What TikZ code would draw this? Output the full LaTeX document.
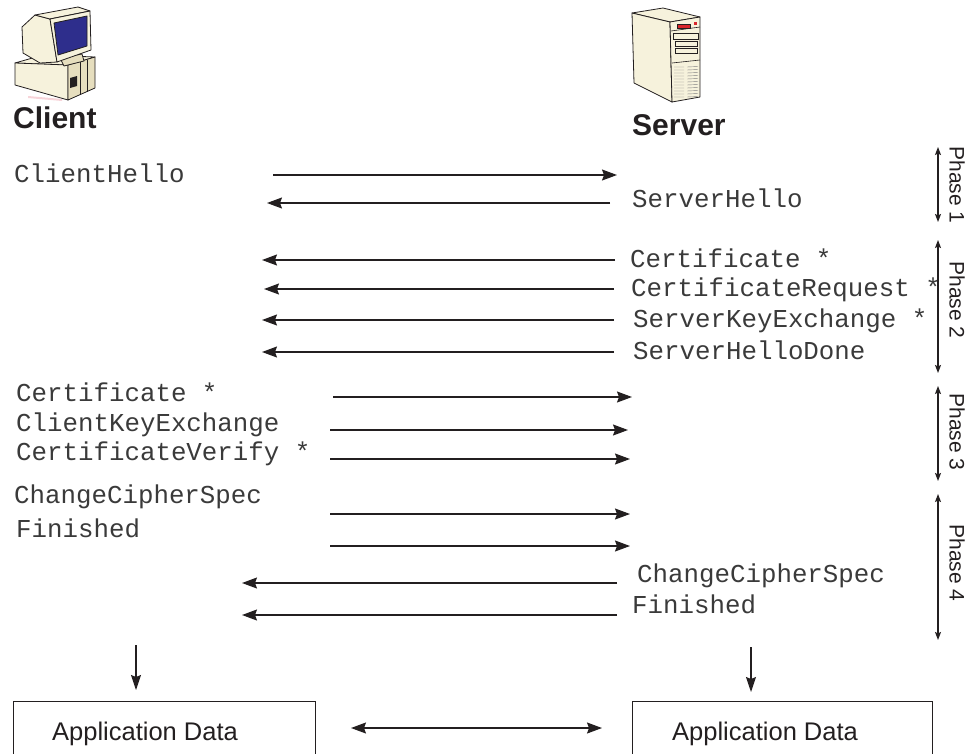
\documentclass[tikz,border=0pt]{standalone}
\usepackage{fontspec}
\setmainfont{Liberation Sans}
\setmonofont{Liberation Mono}
\usetikzlibrary{arrows.meta}
\definecolor{cream}{HTML}{F6F2DC}
\definecolor{creamdark}{HTML}{E6DEBE}
\definecolor{screenblue}{HTML}{2E2E8C}
\definecolor{lcdred}{HTML}{D8262C}
\definecolor{ink}{HTML}{231F20}
\definecolor{monoink}{HTML}{3A3A3A}
\definecolor{shadowpink}{HTML}{F2B8C0}

\begin{document}
\begin{tikzpicture}[x=1pt,y=-1pt,
  msg/.style={line width=1.3pt,draw=ink,-{Stealth[length=15pt,width=11pt,inset=2pt]}},
  down/.style={line width=1.2pt,draw=ink,-{Stealth[length=15pt,width=10pt,inset=2pt]}},
  both/.style={line width=1.3pt,draw=ink,{Stealth[length=15pt,width=11pt,inset=2pt]}-{Stealth[length=15pt,width=11pt,inset=2pt]}},
  phasearrow/.style={line width=1.1pt,draw=ink,{Stealth[length=8pt,width=6pt,inset=1.5pt]}-{Stealth[length=8pt,width=6pt,inset=1.5pt]}},
  msgtext/.style={anchor=base west,inner sep=0pt,text=monoink,
    font=\ttfamily\fontsize{25.8}{30}\selectfont},
  hosttext/.style={anchor=base west,inner sep=0pt,text=ink,
    font=\bfseries\fontsize{30}{34}\selectfont},
  apptext/.style={anchor=base west,inner sep=0pt,text=ink,
    font=\fontsize{25.5}{30}\selectfont},
  phasetext/.style={rotate=-90,inner sep=0pt,text=ink,
    font=\fontsize{21}{24}\selectfont},
  appbox/.style={draw=ink,line width=1pt,fill=white},
  icon/.style={draw=ink,line width=0.8pt,line join=round}
]
\clip (0,0) rectangle (968,753);

% ---------- client workstation ----------
\fill[shadowpink,opacity=0.6] (28,96) -- (62,99) -- (62,101) -- (28,98) -- cycle;
% system unit
\draw[icon,fill=cream] (15,63) -- (43,55) -- (95,57) -- (68,65) -- cycle;
\draw[icon,fill=cream] (15,63) -- (68,65) -- (68,100) -- (15,85) -- cycle;
\draw[icon,fill=creamdark] (68,65) -- (95,57) -- (95,88) -- (68,100) -- cycle;
\draw[ink,line width=0.6pt] (80,62) -- (80,95) (87,60) -- (87,92);
\fill[ink] (70,78) -- (77,76) -- (77,86) -- (70,88) -- cycle;
% monitor stand
\draw[icon,fill=creamdark] (60,58) -- (82,54) -- (84,61) -- (64,66) -- cycle;
% monitor casing
\draw[icon,fill=cream] (35,15) -- (22,27) -- (23,53) -- (40,63) -- (57,62) -- (50,19) -- cycle;
\draw[icon,fill=cream] (35,15) -- (78,7) -- (90,11) -- (50,19) -- cycle;
% bezel and screen
\draw[icon,fill=cream] (50,19) -- (90,11) -- (91,50) -- (57,62) -- cycle;
\draw[icon,fill=screenblue] (54,23) -- (87,16) -- (87,46) -- (58,55) -- cycle;

% ---------- server tower ----------
\draw[icon,fill=cream] (632,13) -- (663,8) -- (700,17) -- (670,22) -- cycle;
\draw[icon,fill=cream] (632,13) -- (670,22) -- (672,102) -- (634,83) -- cycle;
\draw[icon,fill=cream] (670,22) -- (700,17) -- (700,97) -- (672,102) -- cycle;
% control panel
\draw[ink,line width=0.6pt] (671,31) -- (700,27);
\fill[lcdred] (677,24) rectangle (690,28);
\draw[ink,line width=0.4pt] (677,24) rectangle (690,28);
\fill[lcdred] (694,22) rectangle (697,25);
% drive bays
\draw[ink,line width=0.6pt] (673,33) rectangle (698,39);
\draw[ink,line width=0.6pt] (675,41) rectangle (697,46);
\draw[ink,line width=0.6pt] (675,48) rectangle (697,53);
\draw[ink,line width=0.6pt] (672,63) -- (700,60);
% ventilation grille
\foreach \v in {67,70,...,97}
  \draw[gray,line width=0.4pt] (674,\v) -- (684,\v) (687,\v) -- (698,\v-0.5);

% ---------- host labels ----------
\node[hosttext] (client) at (13,128) {Client};
\node[hosttext] (server) at (632,135) {Server};

% ---------- handshake messages ----------
\node[msgtext] (t1)  at (14,182) {ClientHello};
\node[msgtext] (t2)  at (632,207) {ServerHello};
\node[msgtext] (t3)  at (630,267) {Certificate *};
\node[msgtext] (t4)  at (631,296) {CertificateRequest *};
\node[msgtext] (t5)  at (633,327) {ServerKeyExchange *};
\node[msgtext] (t6)  at (633,359) {ServerHelloDone};
\node[msgtext] (t7)  at (16,401) {Certificate *};
\node[msgtext] (t8)  at (16,431) {ClientKeyExchange};
\node[msgtext] (t9)  at (16,460) {CertificateVerify *};
\node[msgtext] (t10) at (14,503) {ChangeCipherSpec};
\node[msgtext] (t11) at (16,537) {Finished};
\node[msgtext] (t12) at (637,582) {ChangeCipherSpec};
\node[msgtext] (t13) at (632,613) {Finished};

% arrow end points
\coordinate (a1s) at (273,175);  \coordinate (a1e) at (617,175);
\coordinate (a2s) at (610,203);  \coordinate (a2e) at (267,203);
\coordinate (a3s) at (615,260);  \coordinate (a3e) at (262,260);
\coordinate (a4s) at (614,289);  \coordinate (a4e) at (264,289);
\coordinate (a5s) at (614,320);  \coordinate (a5e) at (262,320);
\coordinate (a6s) at (614,352);  \coordinate (a6e) at (262,352);
\coordinate (a7s) at (333,397);  \coordinate (a7e) at (632,397);
\coordinate (a8s) at (330,430);  \coordinate (a8e) at (628,430);
\coordinate (a9s) at (330,459);  \coordinate (a9e) at (630,459);
\coordinate (a10s) at (330,514); \coordinate (a10e) at (630,514);
\coordinate (a11s) at (330,546); \coordinate (a11e) at (630,546);
\coordinate (a12s) at (617,583); \coordinate (a12e) at (242,583);
\coordinate (a13s) at (617,615); \coordinate (a13e) at (242,615);

\foreach \i in {1,...,13}
  \draw[msg] (a\i s) -- (a\i e);

% ---------- phases ----------
\coordinate (p1t) at (938,147); \coordinate (p1b) at (938,222);
\coordinate (p2t) at (938,240); \coordinate (p2b) at (938,373);
\coordinate (p3t) at (938,386); \coordinate (p3b) at (938,481);
\coordinate (p4t) at (938,494); \coordinate (p4b) at (938,640);
\foreach \i in {1,...,4}
  \draw[phasearrow] (p\i t) -- (p\i b);
\node[phasetext] (ph1) at (957,185) {Phase 1};
\node[phasetext] (ph2) at (957,300) {Phase 2};
\node[phasetext] (ph3) at (957,432) {Phase 3};
\node[phasetext] (ph4) at (957,563) {Phase 4};

% ---------- application data ----------
\coordinate (cd1) at (136,645); \coordinate (cd2) at (136,690);
\coordinate (sd1) at (751,647); \coordinate (sd2) at (751,692);
\draw[down] (cd1) -- (cd2);
\draw[down] (sd1) -- (sd2);

\node[appbox,anchor=north west,minimum width=302pt,minimum height=80pt,inner sep=0pt] (cbox) at (13,701) {};
\node[appbox,anchor=north west,minimum width=300pt,minimum height=80pt,inner sep=0pt] (sbox) at (632,701) {};
\node[apptext] (capp) at (52,740) {Application Data};
\node[apptext] (sapp) at (672,740) {Application Data};

\coordinate (dl) at (351,728); \coordinate (dr) at (602,728);
\draw[both] (dl) -- (dr);
\end{tikzpicture}
\end{document}
